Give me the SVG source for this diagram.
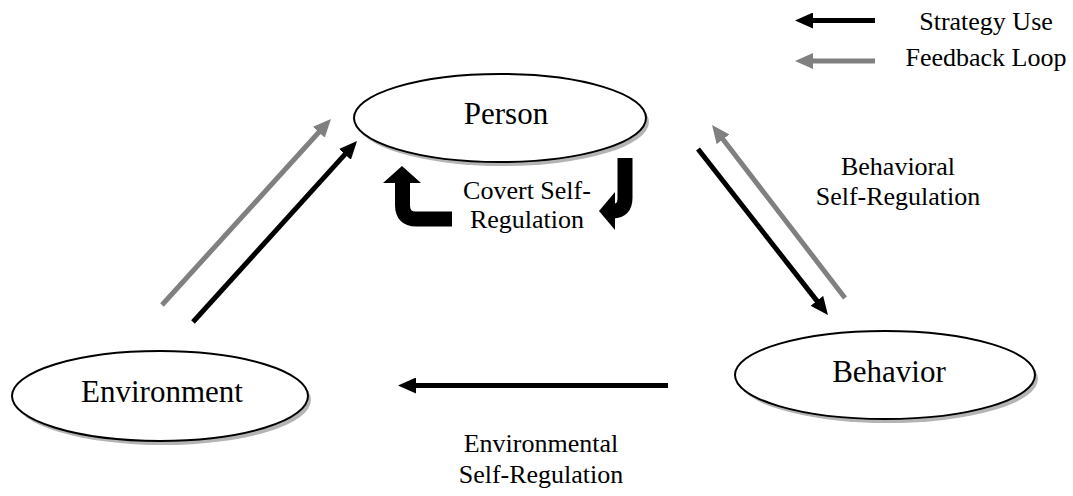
<svg xmlns="http://www.w3.org/2000/svg" width="1073" height="496" viewBox="0 0 1073 496">
<style>
  .node { fill: #ffffff; stroke: #000000; stroke-width: 2; }
  .shadow { fill: #b4b4b4; }
  text { font-family: 'Liberation Serif', 'Times New Roman', Tinos, 'DejaVu Serif', serif; fill: #000; text-anchor: middle; }
  .ntext { font-size: 31px; }
  .lbl { font-size: 26px; }
  .blk { stroke: #000000; stroke-width: 5; fill: none; }
  .gry { stroke: #808080; stroke-width: 5; fill: none; }
  .bent { stroke: #000000; stroke-width: 15; fill: none; }
</style>
<defs>
  <marker id="hb" markerUnits="userSpaceOnUse" markerWidth="18" markerHeight="16" refX="2" refY="8" orient="auto">
    <path d="M0,0 L18,8 L0,16 z" fill="#000000"/>
  </marker>
  <marker id="hg" markerUnits="userSpaceOnUse" markerWidth="18" markerHeight="16" refX="2" refY="8" orient="auto">
    <path d="M0,0 L18,8 L0,16 z" fill="#808080"/>
  </marker>
</defs>
<rect width="1073" height="496" fill="#ffffff"/>

<g id="person">
  <ellipse class="shadow" cx="503" cy="122" rx="146" ry="44"/>
  <ellipse class="node" cx="500" cy="118" rx="146" ry="44"/>
  <text class="ntext" x="506" y="124" font-family="Liberation Serif, serif">Person</text>
</g>
<g id="behavior">
  <ellipse class="shadow" cx="888" cy="379" rx="150" ry="44"/>
  <ellipse class="node" cx="885" cy="375" rx="150" ry="44"/>
  <text class="ntext" x="889" y="382" font-family="Liberation Serif, serif">Behavior</text>
</g>
<g id="environment">
  <ellipse class="shadow" cx="163" cy="400" rx="148" ry="45"/>
  <ellipse class="node" cx="160" cy="396" rx="148" ry="45"/>
  <text class="ntext" x="162" y="402" font-family="Liberation Serif, serif">Environment</text>
</g>

<g id="connectors">
  <line class="gry" x1="162" y1="305" x2="320.2" y2="130.8" marker-end="url(#hg)"/>
  <line class="blk" x1="193" y1="322" x2="346.3" y2="152.9" marker-end="url(#hb)"/>
  <line class="blk" x1="698" y1="149" x2="818.1" y2="302.4" marker-end="url(#hb)"/>
  <line class="gry" x1="845" y1="298" x2="721.8" y2="137.7" marker-end="url(#hg)"/>
  <line class="blk" x1="668" y1="385.5" x2="414" y2="385.5" marker-end="url(#hb)"/>
  <path class="bent" d="M452,219 L416,219 Q402.5,219 402.5,205 L402.5,181"/>
  <polygon points="402,166 383,183 421,183" fill="#000"/>
  <path class="bent" d="M625,158 L625,198 Q625,211 613,211"/>
  <polygon points="599,211 615,192 615,230" fill="#000"/>
</g>

<g id="labels">
  <text class="lbl" x="527" y="199">Covert Self-</text>
  <text class="lbl" x="527" y="228">Regulation</text>
  <text class="lbl" x="898" y="175">Behavioral</text>
  <text class="lbl" x="898" y="205">Self-Regulation</text>
  <text class="lbl" x="541" y="452">Environmental</text>
  <text class="lbl" x="541" y="483">Self-Regulation</text>
</g>

<g id="legend">
  <line class="blk" x1="875" y1="20.5" x2="811" y2="20.5" marker-end="url(#hb)"/>
  <line class="gry" x1="875" y1="61" x2="811" y2="61" marker-end="url(#hg)"/>
  <text class="lbl" x="986" y="29.5">Strategy Use</text>
  <text class="lbl" x="986" y="66">Feedback Loop</text>
</g>
</svg>
